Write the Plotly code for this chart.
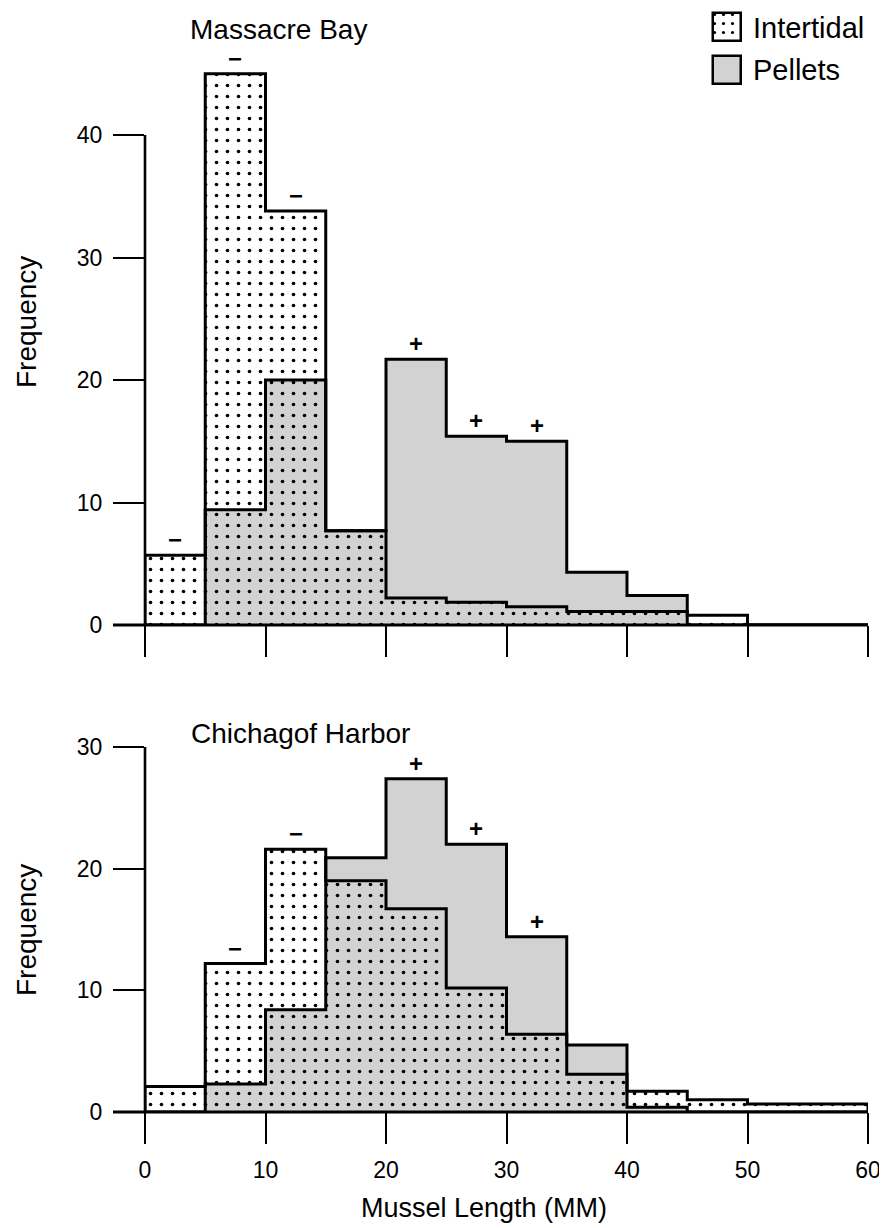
import plotly.graph_objects as go

# ---- data ----
bin_edges = [0, 5, 10, 15, 20, 25, 30, 35, 40, 45, 50, 55, 60]
x_tick_labels = ["0", "10", "20", "30", "40", "50", "60"]

massacre_intertidal = [5.7, 45.0, 33.8, 7.7, 2.2, 1.85, 1.5, 1.1, 1.1, 0.8, 0, 0]
massacre_pellets = [0, 9.4, 20.0, 7.7, 21.7, 15.4, 15.0, 4.3, 2.4, 0, 0, 0]
massacre_signs = ["−", "−", "−", "", "+", "+", "+", "", "", "", "", ""]

chichagof_intertidal = [2.1, 12.2, 21.6, 19.0, 16.7, 10.2, 6.4, 3.1, 1.7, 1.0, 0.65, 0.65]
chichagof_pellets = [0, 2.3, 8.4, 20.9, 27.4, 22.0, 14.4, 5.5, 0.4, 0, 0, 0]
chichagof_signs = ["", "−", "−", "", "+", "+", "+", "", "", "", "", ""]

series_names = ["Intertidal", "Pellets"]

# ---- styling / layout (page pixels; the page body adds an 8px offset) ----
FONT = "Liberation Sans, Arial, Helvetica, sans-serif"
GREY = "#d2d2d2"
OFF = 8
W, H = 887 - OFF, 1228 - OFF
PLOT_L, PLOT_R = 145, 868           # page x of 0 and 60 mm
TOP_BASE, BOT_BASE, BOT_TOP = 625, 1112, 747
ML, MR, MT = PLOT_L - OFF, W - (PLOT_R - OFF), 0
MB = H - (BOT_BASE - OFF)
plot_h = H - MT - MB
plot_w = W - ML - MR

def yp(page_px):
    return (BOT_BASE - page_px) / plot_h

def xp(page_px):
    return (page_px - PLOT_L) / plot_w

centers = [(bin_edges[i] + bin_edges[i + 1]) / 2 for i in range(len(bin_edges) - 1)]
widths = [bin_edges[i + 1] - bin_edges[i] for i in range(len(bin_edges) - 1)]

DOTS = dict(shape=".", size=11, solidity=0.085, fgcolor="black",
            bgcolor="rgba(0,0,0,0)", fillmode="replace")

fig = go.Figure()

def step_xy(vals):
    xs = [bin_edges[0]] + bin_edges[:-1] + [bin_edges[-1]]
    ys = [0] + list(vals) + [0]
    return xs, ys

panels = [
    ("x", "y", massacre_intertidal, massacre_pellets, massacre_signs),
    ("x2", "y2", chichagof_intertidal, chichagof_pellets, chichagof_signs),
]

annotations = []
for xa, ya, inter, pell, signs in panels:
    fig.add_trace(go.Bar(x=centers, y=pell, width=widths, xaxis=xa, yaxis=ya,
                         marker=dict(color=GREY, line=dict(width=0)),
                         showlegend=False, hoverinfo="skip"))
    fig.add_trace(go.Bar(x=centers, y=inter, width=widths, xaxis=xa, yaxis=ya,
                         marker=dict(color="black", line=dict(width=0), pattern=DOTS),
                         showlegend=False, hoverinfo="skip"))
    for vals in (pell, inter):
        sx, sy = step_xy(vals)
        fig.add_trace(go.Scatter(x=sx, y=sy, xaxis=xa, yaxis=ya, mode="lines",
                                 line=dict(color="black", width=3, shape="hv"),
                                 showlegend=False, hoverinfo="skip"))
    for c, a, b, s in zip(centers, inter, pell, signs):
        if s:
            annotations.append(dict(x=c, y=max(a, b), xref=xa, yref=ya, text="<b>" + s + "</b>",
                                    showarrow=False, yanchor="bottom", yshift=0,
                                    font=dict(family=FONT, size=24, color="black")))

# ---- custom legend: icons drawn as bars on tiny hidden axes ----
icon_boxes = [(13, 41), (56, 84)]   # page y top/bottom of each icon
icon_x = (713, 741)
legend_text_y = [28, 70]
for k, (name, (ytop, ybot)) in enumerate(zip(series_names, icon_boxes)):
    xa, ya = "x%d" % (k + 3), "y%d" % (k + 3)
    marker = dict(line=dict(color="black", width=2.5))
    if name == "Intertidal":
        marker.update(color="black", pattern=dict(shape=".", size=9, solidity=0.1,
                                                  fgcolor="black", bgcolor="white",
                                                  fillmode="replace"))
    else:
        marker.update(color=GREY)
    fig.add_trace(go.Bar(x=[0], y=[1], width=[1], xaxis=xa, yaxis=ya, marker=marker,
                         showlegend=False, hoverinfo="skip"))
    pad = 3
    fig.layout["xaxis%d" % (k + 3)] = dict(domain=[xp(icon_x[0] - pad), xp(icon_x[1] + pad)],
                                          range=[-0.5 - pad / (icon_x[1] - icon_x[0]),
                                                 0.5 + pad / (icon_x[1] - icon_x[0])],
                                          visible=False, anchor=ya, fixedrange=True)
    fig.layout["yaxis%d" % (k + 3)] = dict(domain=[yp(ybot + pad), yp(ytop - pad)],
                                          range=[-pad / (ybot - ytop), 1 + pad / (ybot - ytop)],
                                          visible=False, anchor=xa, fixedrange=True)
    annotations.append(dict(text=name, x=xp(751), y=yp(legend_text_y[k]), xref="paper", yref="paper",
                            xanchor="left", yanchor="middle", showarrow=False,
                            font=dict(family=FONT, size=29, color="black")))

axis_common = dict(showgrid=False, zeroline=False, showline=False, ticks="outside",
                   ticklen=31, tickwidth=2.2, tickcolor="black",
                   tickfont=dict(family=FONT, size=23, color="black"))

top_range = (TOP_BASE - 36) / ((TOP_BASE - 135) / 40)
bot_range = 30

fig.update_layout(
    width=W, height=H,
    margin=dict(l=ML, r=MR, t=MT, b=MB, autoexpand=False),
    paper_bgcolor="white", plot_bgcolor="white",
    barmode="overlay", bargap=0, showlegend=False,
    font=dict(family=FONT, color="black"),
    xaxis=dict(domain=[0, 1], range=[0, 60], anchor="y", tickvals=bin_edges[::2],
               showticklabels=False, **axis_common),
    yaxis=dict(domain=[yp(TOP_BASE), yp(36)], range=[0, top_range], anchor="x",
               tickvals=[0, 10, 20, 30, 40], ticklabelstandoff=6, **axis_common),
    xaxis2=dict(domain=[0, 1], range=[0, 60], anchor="y2", tickvals=bin_edges[::2],
                ticktext=x_tick_labels, ticklabelstandoff=6, **axis_common),
    yaxis2=dict(domain=[0, yp(BOT_TOP)], range=[0, bot_range], anchor="x2",
                tickvals=[0, 10, 20, 30], ticklabelstandoff=6, **axis_common),
    annotations=annotations + [
        dict(text="Massacre Bay", x=xp(188), y=yp(29), xref="paper", yref="paper",
             xanchor="left", yanchor="middle", showarrow=False,
             font=dict(family=FONT, size=28, color="black")),
        dict(text="Chichagof Harbor", x=xp(189), y=yp(733), xref="paper", yref="paper",
             xanchor="left", yanchor="middle", showarrow=False,
             font=dict(family=FONT, size=28, color="black")),
        dict(text="Frequency", x=xp(26), y=yp(322), xref="paper", yref="paper",
             xanchor="center", yanchor="middle", textangle=-90, showarrow=False,
             font=dict(family=FONT, size=28, color="black")),
        dict(text="Frequency", x=xp(26), y=yp(930), xref="paper", yref="paper",
             xanchor="center", yanchor="middle", textangle=-90, showarrow=False,
             font=dict(family=FONT, size=28, color="black")),
        dict(text="Mussel Length (MM)", x=xp(484), y=yp(1208), xref="paper", yref="paper",
             xanchor="center", yanchor="middle", showarrow=False,
             font=dict(family=FONT, size=27, color="black")),
    ],
    shapes=[
        dict(type="line", xref="x domain", yref="y domain", x0=0, x1=0, y0=0, y1=40 / top_range,
             line=dict(color="black", width=2.6), layer="above"),
        dict(type="line", xref="x domain", yref="y domain", x0=-32 / plot_w, x1=1, y0=0, y1=0,
             line=dict(color="black", width=3), layer="above"),
        dict(type="line", xref="x2 domain", yref="y2 domain", x0=0, x1=0, y0=0, y1=1,
             line=dict(color="black", width=2.6), layer="above"),
        dict(type="line", xref="x2 domain", yref="y2 domain", x0=-32 / plot_w, x1=1, y0=0, y1=0,
             line=dict(color="black", width=3), layer="above"),
    ],
)

fig.write_html("out.html")
